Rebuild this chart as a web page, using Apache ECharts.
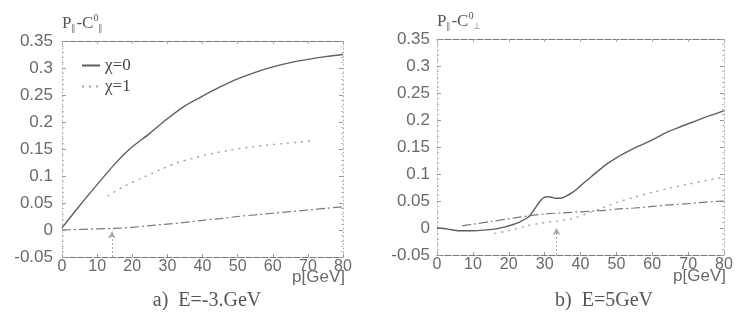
<!DOCTYPE html>
<html>
<head>
<meta charset="utf-8">
<script src="https://cdn.jsdelivr.net/npm/echarts@6/dist/echarts.min.js"></script>
<style>
  html, body { margin: 0; padding: 0; background: #fff; }
  #chart { width: 738px; height: 323px; }
</style>
</head>
<body>
<div id="chart"></div>
<script>
// panel a) E=-3 GeV
const aSolid = [[0, 0.004], [5, 0.045], [10, 0.084], [15, 0.122], [20, 0.154], [25, 0.179], [30, 0.206], [35, 0.23], [40, 0.248], [45, 0.265], [50, 0.28], [55, 0.292], [60, 0.302], [65, 0.31], [70, 0.316], [75, 0.321], [80, 0.325]];
const aDotted = [[13, 0.063], [18, 0.082], [23, 0.097], [28, 0.112], [33, 0.125], [38, 0.134], [43, 0.142], [48, 0.148], [53, 0.153], [58, 0.157], [63, 0.16], [68, 0.163], [72, 0.166]];
const aDashDot = [[0, 0], [10, 0.002], [15, 0.003], [20, 0.005], [25, 0.008], [30, 0.011], [35, 0.014], [40, 0.018], [45, 0.021], [50, 0.025], [55, 0.028], [60, 0.031], [65, 0.034], [70, 0.037], [75, 0.04], [80, 0.043]];
const aArrow = [14.2, -0.003];

// panel b) E=5 GeV
const bSolid = [[0, 0], [3, -0.002], [6, -0.005], [10, -0.005], [13, -0.004], [16, -0.002], [19, 0.002], [21, 0.006], [23, 0.011], [25, 0.018], [26, 0.024], [27, 0.033], [28, 0.043], [29, 0.052], [30, 0.057], [31, 0.058], [32, 0.057], [33, 0.055], [34, 0.055], [35, 0.056], [36, 0.059], [38, 0.067], [40, 0.078], [43, 0.095], [47, 0.117], [50, 0.13], [53, 0.141], [56, 0.151], [60, 0.163], [64, 0.177], [68, 0.188], [72, 0.198], [76, 0.208], [80, 0.217]];
const bDotted = [[16, -0.01], [20, -0.005], [25, 0.004], [30, 0.01], [34, 0.013], [38, 0.018], [42, 0.027], [46, 0.037], [50, 0.047], [55, 0.057], [60, 0.066], [65, 0.074], [70, 0.081], [75, 0.088], [80, 0.094]];
const bDashDot = [[7, 0.004], [10, 0.007], [15, 0.012], [20, 0.017], [25, 0.022], [30, 0.026], [35, 0.028], [40, 0.03], [45, 0.032], [50, 0.035], [55, 0.037], [60, 0.04], [65, 0.043], [70, 0.045], [75, 0.048], [80, 0.05]];
const bArrow = [33.3, 0.0];

const legendNames = ["χ=0", "χ=1"];
const titles = ["a)  E=-3.GeV", "b)  E=5GeV"];
const xName = "p[GeV]";

const chart = echarts.init(document.getElementById("chart"));

const serif = "Liberation Serif";
const sans = "Liberation Sans";
const labelColor = "#6a6a6a";

function yName(subP, subC) {
  return "{p|P}{s|" + subP + "}{p|-C}{u|0}{s|" + subC + "}";
}
const yNameRich = {
  p: { fontFamily: serif, fontSize: 17, color: "#555", verticalAlign: "middle" },
  s: { fontFamily: serif, fontSize: 9, color: "#777", padding: [10, 0, 0, 0] },
  u: { fontFamily: serif, fontSize: 10, color: "#555", padding: [0, 0, 12, 0] },
};

function xAxisPair(gridIndex) {
  return [
    {
      gridIndex, type: "value", min: 0, max: 80, interval: 10,
      axisLine: { onZero: false, lineStyle: { color: "#777", width: 1.2, type: [6, 2] } },
      axisTick: { inside: true, length: 3, lineStyle: { color: "#999" } },
      axisLabel: { fontFamily: sans, fontSize: 16, color: labelColor, margin: 2 },
      splitLine: { show: false },
    },
    {
      gridIndex, type: "value", min: 0, max: 80, interval: 10, position: "top",
      axisLine: { onZero: false, lineStyle: { color: "#777", width: 1.2, type: [6, 2] } },
      axisTick: { inside: true, length: 3, lineStyle: { color: "#aaa" } },
      axisLabel: { show: false },
      splitLine: { show: false },
    },
  ];
}

function yAxisPair(gridIndex, subP, subC, margin) {
  return [
    {
      gridIndex, type: "value", min: -0.05, max: 0.35, interval: 0.05,
      name: yName(subP, subC), nameLocation: "end", nameGap: 6,
      nameTextStyle: { align: "left", verticalAlign: "bottom", rich: yNameRich },
      axisLine: { onZero: false, lineStyle: { color: "#aaa", width: 1, type: [1, 3] } },
      axisTick: { inside: true, length: 4, lineStyle: { color: "#999" } },
      minorTick: { show: true, splitNumber: 5, length: 2, lineStyle: { color: "#bbb" } },
      axisLabel: {
        fontFamily: sans, fontSize: 17, color: labelColor, margin,
        formatter: (v) => String(+v.toFixed(2)),
      },
      splitLine: { show: false },
    },
    {
      gridIndex, type: "value", min: -0.05, max: 0.35, interval: 0.05, position: "right",
      axisLine: { onZero: false, lineStyle: { color: "#aaa", width: 1, type: [1, 3] } },
      axisTick: { inside: true, length: 4, lineStyle: { color: "#999" } },
      minorTick: { show: true, splitNumber: 5, length: 2, lineStyle: { color: "#bbb" } },
      axisLabel: { show: false },
      splitLine: { show: false },
    },
  ];
}

function curve(name, data, axisIndex, style) {
  return {
    name, type: "line", data, xAxisIndex: axisIndex, yAxisIndex: axisIndex,
    showSymbol: false, symbol: "none", smooth: 0.3, silent: true,
    itemStyle: { color: style.color },
    lineStyle: style,
  };
}

const solidStyle = { color: "#5f5f5f", width: 1.4, type: "solid" };
const dottedStyle = { color: "#a0a0a0", width: 1.4, type: [2, 5] };
const dashDotStyle = { color: "#7a7a7a", width: 1.2, type: [9, 3, 2, 3] };

function arrow(p, axisIndex) {
  return {
    type: "line", data: [], xAxisIndex: axisIndex, yAxisIndex: axisIndex, silent: true,
    markLine: {
      silent: true, symbol: ["none", "arrow"], symbolSize: [6, 7],
      label: { show: false },
      lineStyle: { color: "#aaa", width: 1, type: [2, 2] },
      data: [[{ coord: [p[0], -0.05] }, { coord: [p[0], p[1]] }]],
    },
  };
}

const titleStyle = { fontFamily: serif, fontSize: 20, fontWeight: "normal", color: "#555" };
const xNameStyle = { fontFamily: sans, fontSize: 17, fontWeight: "normal", color: labelColor };

const options = {
  backgroundColor: "#fff",
  animation: false,
  title: [
    { text: titles[0], left: 202, top: 286, textAlign: "center", textStyle: titleStyle },
    { text: titles[1], left: 599, top: 286, textAlign: "center", textStyle: titleStyle },
    { text: xName, left: 345, top: 269, textAlign: "right", padding: 0, textStyle: xNameStyle },
    { text: xName, left: 726, top: 268, textAlign: "right", padding: 0, textStyle: xNameStyle },
  ],
  legend: {
    data: legendNames, orient: "vertical", left: 76, top: 52, itemGap: 4,
    itemWidth: 18, itemHeight: 8, selectedMode: false,
    itemStyle: { opacity: 0 },
    textStyle: { fontFamily: serif, fontSize: 17, color: "#444" },
  },
  grid: [
    { left: 62, top: 41, width: 281, height: 216, containLabel: false },
    { left: 437, top: 39, width: 287, height: 216, containLabel: false },
  ],
  xAxis: [...xAxisPair(0), ...xAxisPair(1)],
  yAxis: [...yAxisPair(0, "∥", "∥", 9), ...yAxisPair(1, "∥", "⊥", 7)],
  series: [
    curve(legendNames[0], aSolid, 0, solidStyle),
    curve(legendNames[1], aDotted, 0, dottedStyle),
    curve("aDashDot", aDashDot, 0, dashDotStyle),
    arrow(aArrow, 0),
    curve("bSolid", bSolid, 2, solidStyle),
    curve("bDotted", bDotted, 2, dottedStyle),
    curve("bDashDot", bDashDot, 2, dashDotStyle),
    arrow(bArrow, 2),
  ],
};

chart.setOption(options);
</script>
</body>
</html>
